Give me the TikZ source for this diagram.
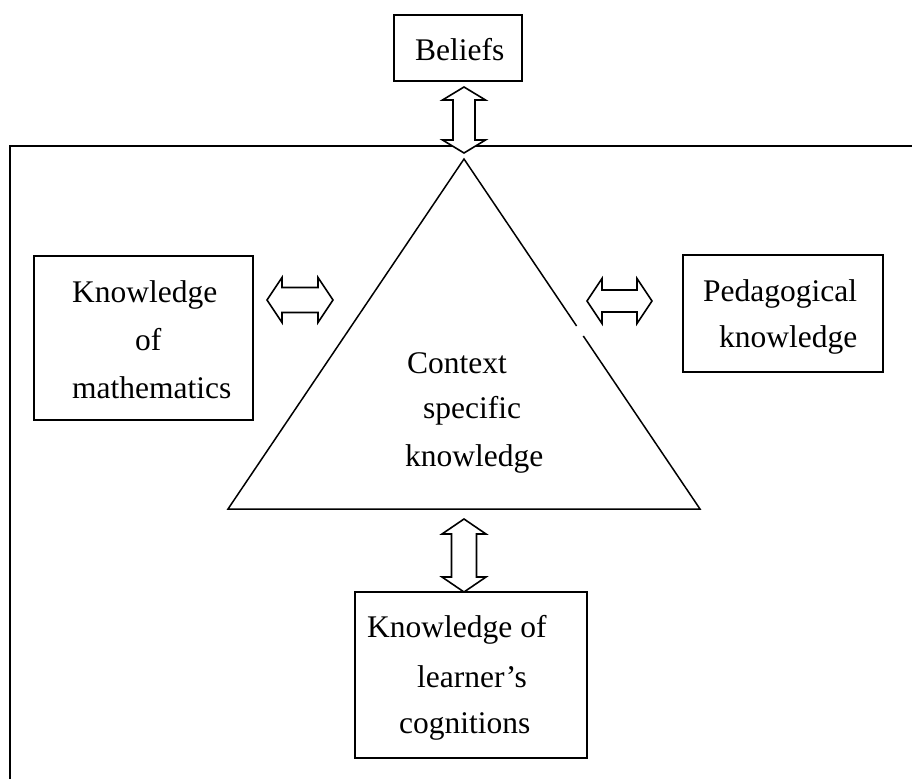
\documentclass[tikz,border=0pt]{standalone}
\usepackage{fontspec}
\setmainfont{Liberation Serif}
\newcommand{\blockV}[6]{% x, ytop, ybot, head half-width, shaft half-width, head depth
  \path[barrow] (#1,#2) -- ({#1+#4},{#2+#6}) -- ({#1+#5},{#2+#6}) -- ({#1+#5},{#3-#6}) -- ({#1+#4},{#3-#6}) -- (#1,#3) -- ({#1-#4},{#3-#6}) -- ({#1-#5},{#3-#6}) -- ({#1-#5},{#2+#6}) -- ({#1-#4},{#2+#6}) -- cycle;}
\newcommand{\blockH}[6]{% y, xleft, xright, head half-width, shaft half-width, head depth
  \path[barrow] (#2,#1) -- ({#2+#6},{#1-#4}) -- ({#2+#6},{#1-#5}) -- ({#3-#6},{#1-#5}) -- ({#3-#6},{#1-#4}) -- (#3,#1) -- ({#3-#6},{#1+#4}) -- ({#3-#6},{#1+#5}) -- ({#2+#6},{#1+#5}) -- ({#2+#6},{#1+#4}) -- cycle;}
\begin{document}
\begin{tikzpicture}[x=1pt,y=-1pt,
  box/.style={draw, line width=1.5pt, inner sep=0pt, outer sep=0pt},
  txt/.style={inner sep=0pt, anchor=base west, font=\fontsize{31.5}{38}\selectfont},
  barrow/.style={draw, fill=white, line width=1.6pt, line join=miter},
  frameline/.style={line width=2.2pt},
  triline/.style={line width=1.5pt}]
\useasboundingbox (0,0) rectangle (912,779);
% outer frame
\coordinate (fbl) at (10,779);
\coordinate (ftl) at (10,146);
\coordinate (ftr) at (912,146);
\draw[frameline] (fbl) -- (ftl) -- (ftr);
% triangle
\coordinate (apex) at (464,159);
\coordinate (bl) at (228,509);
\coordinate (br) at (700,509);
\coordinate (g1) at (576.6,326);
\coordinate (g2) at (583.3,336);
\draw[triline, line join=miter] (g1) -- (apex) -- (bl) -- (br) -- (g2);
% boxes
\node[box, minimum width=128pt, minimum height=66pt] (beliefs) at (458,48) {};
\node[box, minimum width=219pt, minimum height=164pt] (math) at (143.5,338) {};
\node[box, minimum width=200pt, minimum height=117pt] (ped) at (783,313.5) {};
\node[box, minimum width=232pt, minimum height=166pt] (learn) at (471,675) {};
% texts
\node[txt] (tbel) at (415,60) {Beliefs};
\node[txt] (tm1) at (72,302) {Knowledge};
\node[txt] (tm2) at (135,350) {of};
\node[txt] (tm3) at (72,398) {mathematics};
\node[txt] (tp1) at (703,301) {Pedagogical};
\node[txt] (tp2) at (719,347) {knowledge};
\node[txt] (tc1) at (407,373) {Context};
\node[txt] (tc2) at (423,418) {specific};
\node[txt] (tc3) at (405,466) {knowledge};
\node[txt] (tl1) at (367,637) {Knowledge of};
\node[txt] (tl2) at (417,687) {learner’s};
\node[txt] (tl3) at (399,733) {cognitions};
% block double arrows
\blockV{464}{87}{153}{21.5}{11}{13}
\blockH{300}{267}{333}{22.5}{12.5}{15}
\blockH{301}{587}{652}{22.5}{11}{15}
\blockV{464}{519}{592}{22}{12.5}{15}
\end{tikzpicture}
\end{document}
